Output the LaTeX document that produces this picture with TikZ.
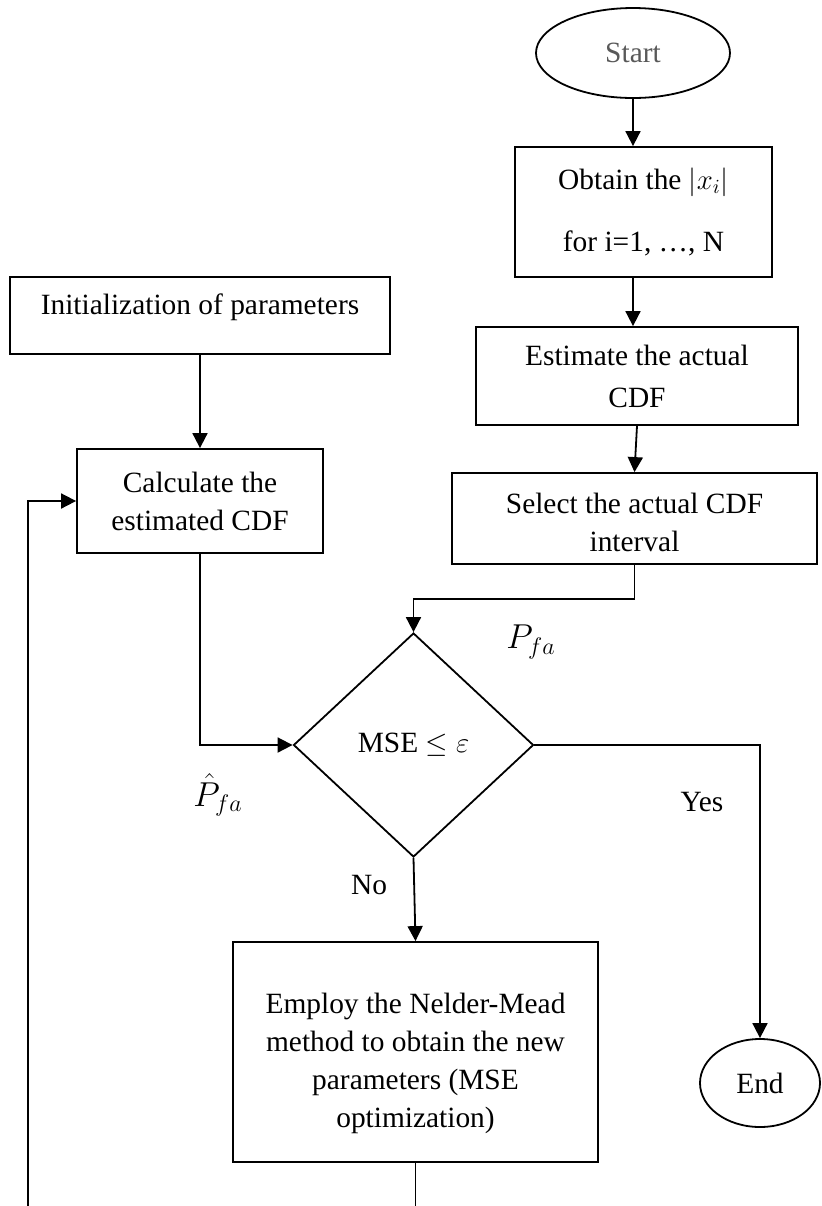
\documentclass[tikz,border=0pt]{standalone}
\usepackage{fontspec}
\setmainfont{Liberation Serif}
\usetikzlibrary{arrows.meta,shapes.geometric,positioning,calc}
\definecolor{startgray}{rgb}{0.35,0.35,0.35}

\begin{document}
\begin{tikzpicture}[x=0.5pt, y=-0.5pt, line width=0.9pt,
  every node/.style={font=\fontsize{14.7}{19}\selectfont},
  box/.style={draw, rectangle, align=center, inner sep=0pt},
  term/.style={draw, ellipse, inner sep=0pt},
  decision/.style={draw, diamond, inner sep=0pt},
  flow/.style={font=\fontsize{17}{20}\selectfont},
  arr/.style={-{Triangle[length=7.5pt,width=7.5pt]}}]
  \useasboundingbox (0,0) rectangle (822,1206);
  % Right column
  \node[term, minimum width=97pt, minimum height=45pt] (start) at (633,53)
    {\textcolor{startgray}{Start}};
  \node[box, minimum width=128.5pt, minimum height=65pt] (obtain) at (643.5,212)
    {Obtain the $|x_i|$\\[12pt]for i=1, \ldots, N};
  \node[box, minimum width=161pt, minimum height=49pt] (estimate) at (637,376)
    {Estimate the actual\\[2pt]CDF};
  \node[box, minimum width=182.5pt, minimum height=45.5pt] (select) at (634.5,518.5)
    {\rule{0pt}{14pt}Select the actual CDF\\interval};
  % Left column
  \node[box, minimum width=190pt, minimum height=38.5pt, text depth=11pt] (init) at (200,315.5)
    {Initialization of parameters};
  \node[box, minimum width=123pt, minimum height=52pt] (calc) at (200,501)
    {Calculate the\\estimated CDF};
  % Decision and result
  \node[decision, minimum width=120pt, minimum height=112pt] (dec) at (413.5,745)
    {MSE $\leq \varepsilon$};
  \node[box, minimum width=182.5pt, minimum height=110pt] (employ) at (415.5,1052)
    {\rule{0pt}{22pt}Employ the Nelder-Mead\\method to obtain the new\\parameters (MSE\\optimization)};
  \node[term, minimum width=60pt, minimum height=44pt] (endnode) at (760,1083) {End};
  % Labels
  \node[flow] (pfa) at (531,642) {$P_{fa}$};
  \node[flow] (pfahat) at (218,795) {$\hat{P}_{fa}$};
  \node (yes) at (702,802) {Yes};
  \node (no) at (369,885) {No};
  % Connectors
  \coordinate (bot) at (0,1206);
  \coordinate (loopin) at (28,1206);
  \draw[arr] (start.south) -- (start.south |- obtain.north);
  \draw[arr] (start.south |- obtain.south) -- (start.south |- estimate.north);
  \draw[arr] (estimate.south) -- (select.north);
  \draw[arr] (select.south) -- ++(0,34) -| (dec.north);
  \draw[arr] (init.south) -- (calc.north);
  \draw[arr] (calc.south) |- (dec.west);
  \draw[arr] (dec.east) -| (endnode.north);
  \draw[arr] (dec.south) -- (employ.north);
  \draw (employ.south) -- (employ.south |- bot);
  \draw[arr] (loopin) |- (calc.west);
\end{tikzpicture}
\end{document}
